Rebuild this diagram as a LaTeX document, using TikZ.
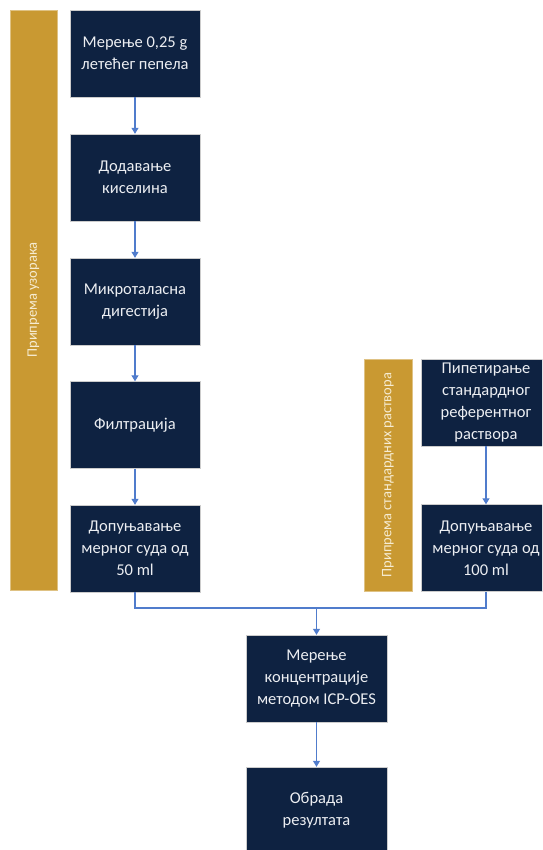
\documentclass[tikz,border=0pt]{standalone}
\usepackage{fontspec}
\setmainfont{Carlito}
\usetikzlibrary{arrows.meta}
\definecolor{navy}{RGB}{14,34,65}
\definecolor{gold}{RGB}{201,153,50}
\definecolor{arrowblue}{RGB}{80,124,204}
\definecolor{boxtext}{RGB}{236,238,242}
\definecolor{bartext}{RGB}{246,236,210}
\tikzset{
  x=1pt,y=-1pt,
  stepbox/.style={fill=navy,draw=gray!40,line width=0.4pt,minimum width=130pt,minimum height=87pt,
    inner sep=0pt,text=boxtext,align=center,
    font=\fontsize{16.5}{22}\selectfont},
  goldbar/.style={fill=gold,draw=gold!60!white,line width=0.4pt,inner sep=0pt},
  bartxt/.style={text=bartext,font=\fontsize{14.5}{16}\selectfont,rotate=90},
  conn/.style={draw=arrowblue,line width=1.1pt,-{Triangle[width=7pt,length=6pt]}},
  line/.style={draw=arrowblue,line width=1.1pt}
}
\begin{document}
\begin{tikzpicture}
\useasboundingbox (0,0) rectangle (542,850);
\clip (0,0) rectangle (542,850);
\fill[white] (0,0) rectangle (542,850);
% gold bars
\node[goldbar,minimum width=47pt,minimum height=580pt] (lbar) at (33.5,300) {};
\node[bartxt] (ltxt) at (lbar.center) {Припрема узорака};
\node[goldbar,minimum width=48pt,minimum height=232pt] (rbar) at (388,475) {};
\node[bartxt] (rtxt) at (rbar.center) {Припрема стандардних раствора};
% left chain
\node[stepbox] (b1) at (135,53.5) {Мерење 0,25 g\\летећег пепела};
\node[stepbox] (b2) at (135,177.5) {Додавање\\киселина};
\node[stepbox] (b3) at (135,301.5) {Микроталасна\\дигестија};
\node[stepbox] (b4) at (135,425) {Филтрација};
\node[stepbox] (b5) at (135,548.5) {Допуњавање\\мерног суда од\\50 ml};
% right chain
\node[stepbox] (r1) at (486,402.5) {Пипетирање\\стандардног\\референтног\\раствора};
\node[stepbox] (r2) at (486,548) {Допуњавање\\мерног суда од\\100 ml};
% bottom
\node[stepbox,minimum width=141pt] (m1) at (316.5,678.5) {Мерење\\концентрације\\методом ICP-OES};
\node[stepbox,minimum width=141pt] (m2) at (316.5,810.5) {Обрада\\резултата};
\coordinate (merge) at (316.5,608);
% connectors
\draw[conn] (b1) -- (b2);
\draw[conn] (b2) -- (b3);
\draw[conn] (b3) -- (b4);
\draw[conn] (b4) -- (b5);
\draw[conn] (r1) -- (r2);
\draw[line] (b5.south) |- (merge);
\draw[line] (r2.south) |- (merge);
\draw[conn] (merge) -- (m1);
\draw[conn] (m1) -- (m2);
\end{tikzpicture}
\end{document}
